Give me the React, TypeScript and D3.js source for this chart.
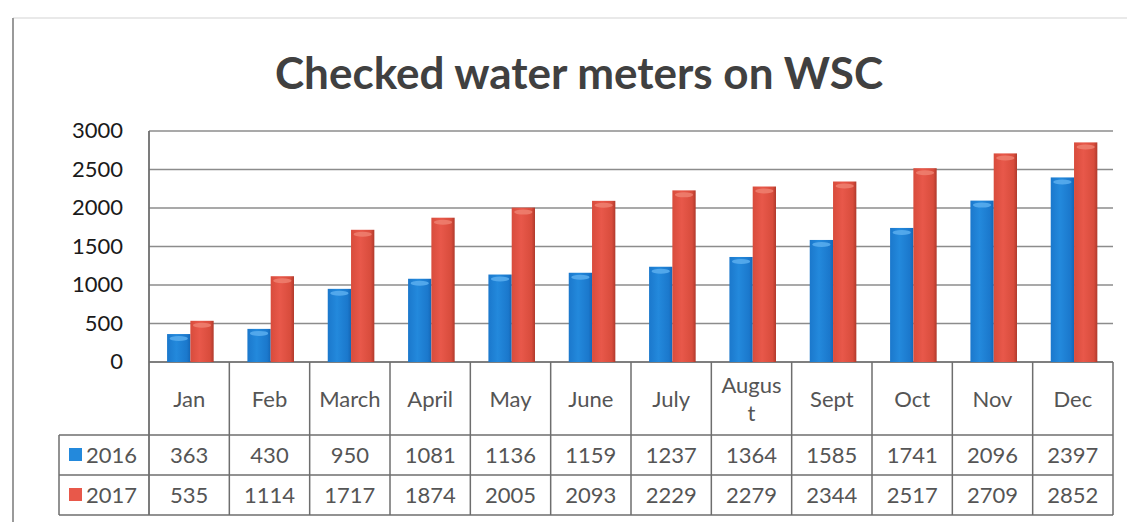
import React from "react";
import * as d3 from "d3";

const months = ["Jan", "Feb", "March", "April", "May", "June", "July", "August", "Sept", "Oct", "Nov", "Dec"];
const monthLabelLines = [["Jan"], ["Feb"], ["March"], ["April"], ["May"], ["June"], ["July"], ["Augus", "t"], ["Sept"], ["Oct"], ["Nov"], ["Dec"]];
const series2016 = [363, 430, 950, 1081, 1136, 1159, 1237, 1364, 1585, 1741, 2096, 2397];
const series2017 = [535, 1114, 1717, 1874, 2005, 2093, 2229, 2279, 2344, 2517, 2709, 2852];
const seriesNames = ["2016", "2017"];
const yTicks = [0, 500, 1000, 1500, 2000, 2500, 3000];
const title = "Checked water meters on WSC";

const W = 1127;
const H = 522;
const plotLeft = 149;
const plotRight = 1113;
const plotTop = 131;
const plotBottom = 362;
const row1Top = 435;
const row2Top = 475;
const tableBottom = 515;
const legendLeft = 59;

const FONT = "Lato, 'Open Sans', sans-serif";

export default function App() {
  const x = d3.scaleBand<string>().domain(months).range([plotLeft, plotRight]).paddingInner(0).paddingOuter(0);
  const y = d3.scaleLinear().domain([0, 3000]).range([plotBottom, plotTop]);
  const bw = x.bandwidth();
  const barW = bw * 0.29;
  const barOffset = bw * 0.225;
  const colors = [
    { id: "g2016", dark: "#1466b5", mid: "#2389dc", light: "#1b78cc", cap: "#5aaeee" },
    { id: "g2017", dark: "#b03a2c", mid: "#e8584a", light: "#d84c3c", cap: "#ef8070" },
  ];
  const data = [series2016, series2017];
  const gridColor = "#8c8c8c";
  const tableColor = "#6e6e6e";

  return (
    <svg width={W} height={H} style={{ display: "block", position: "absolute", left: 0, top: 0, background: "#fff" }}>
      <defs>
        {colors.map((c) => (
          <linearGradient key={c.id} id={c.id} x1="0" x2="1" y1="0" y2="0">
            <stop offset="0" stopColor={c.light} />
            <stop offset="0.4" stopColor={c.mid} />
            <stop offset="0.85" stopColor={c.light} />
            <stop offset="1" stopColor={c.dark} />
          </linearGradient>
        ))}
      </defs>
      <rect x={0} y={0} width={W} height={H} fill="#fff" />
      {/* frame */}
      <line x1={13} x2={W} y1={18} y2={18} stroke="#e2e2e2" strokeWidth={1.5} />
      <line x1={13} x2={13} y1={18} y2={H} stroke="#9a9a9a" strokeWidth={2} />

      {/* title */}
      <text x={579} y={89} textAnchor="middle" fontFamily={FONT} fontWeight={700} fontSize={44} fill="#404040">
        {title}
      </text>

      {/* grid */}
      {yTicks.map((t) => (
        <g key={t}>
          <line x1={plotLeft} x2={plotRight} y1={y(t)} y2={y(t)} stroke={t === 0 ? "#555" : gridColor} strokeWidth={1.5} />
          <text x={123} y={y(t) + 7} textAnchor="end" fontFamily={FONT} fontSize={22} fill="#1a1a1a">
            {t}
          </text>
        </g>
      ))}

      {/* bars */}
      {data.map((s, si) =>
        s.map((v, i) => {
          const bx = (x(months[i]) as number) + barOffset + si * barW;
          const top = y(v);
          const c = colors[si];
          return (
            <g key={`${si}-${i}`}>
              <rect x={bx} y={top} width={barW} height={plotBottom - top} fill={`url(#${c.id})`} />
              <ellipse cx={bx + barW / 2} cy={top + 4.5} rx={barW / 2 - 2.5} ry={2.5} fill={c.cap} opacity={0.85} />
            </g>
          );
        })
      )}

      {/* axis */}
      <line x1={plotLeft} x2={plotLeft} y1={plotTop} y2={tableBottom} stroke={tableColor} strokeWidth={1.8} />

      {/* table */}
      {months.map((m) => {
        const x1 = (x(m) as number) + bw;
        return <line key={m} x1={x1} x2={x1} y1={plotBottom} y2={tableBottom} stroke={tableColor} strokeWidth={1.5} />;
      })}
      <line x1={legendLeft} x2={plotRight} y1={row1Top} y2={row1Top} stroke={tableColor} strokeWidth={1.5} />
      <line x1={legendLeft} x2={plotRight} y1={row2Top} y2={row2Top} stroke={tableColor} strokeWidth={1.5} />
      <line x1={legendLeft} x2={plotRight} y1={tableBottom} y2={tableBottom} stroke={tableColor} strokeWidth={1.5} />
      <line x1={legendLeft} x2={legendLeft} y1={row1Top} y2={tableBottom} stroke={tableColor} strokeWidth={1.5} />

      {monthLabelLines.map((lines, i) => {
        const cx = (x(months[i]) as number) + bw / 2;
        const cy = (plotBottom + row1Top) / 2;
        const lh = 28;
        const start = cy - ((lines.length - 1) * lh) / 2 + 8;
        return (
          <text key={months[i]} textAnchor="middle" fontFamily={FONT} fontSize={22} fill="#555">
            {lines.map((l, k) => (
              <tspan key={k} x={cx} y={start + k * lh}>
                {l}
              </tspan>
            ))}
          </text>
        );
      })}

      {data.map((s, si) => {
        const rowTop = si === 0 ? row1Top : row2Top;
        const cy = rowTop + 20 + 8;
        return (
          <g key={si}>
            <rect x={69} y={cy - 15} width={13} height={13} fill={colors[si].mid} />
            <text x={86} y={cy} fontFamily={FONT} fontSize={22} fill="#555">
              {seriesNames[si]}
            </text>
            {s.map((v, i) => (
              <text key={i} x={(x(months[i]) as number) + bw / 2} y={cy} textAnchor="middle" fontFamily={FONT} fontSize={22} fill="#555">
                {v}
              </text>
            ))}
          </g>
        );
      })}
    </svg>
  );
}
